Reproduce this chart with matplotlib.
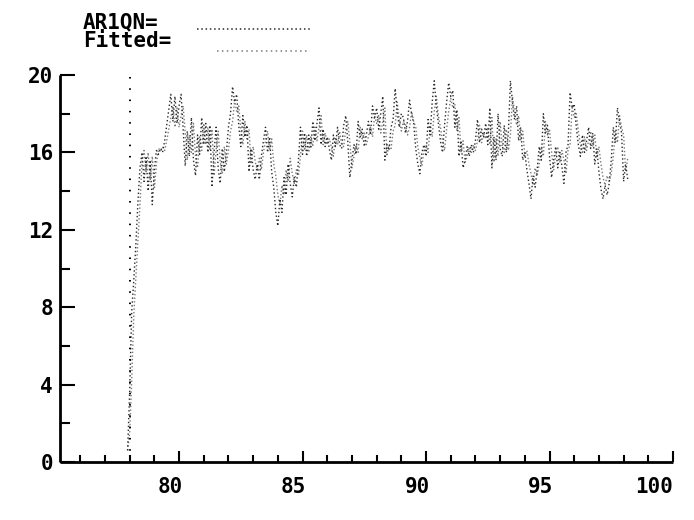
import matplotlib
matplotlib.use("Agg")
import matplotlib.pyplot as plt
import numpy as np
from matplotlib.lines import Line2D
from matplotlib.ticker import MultipleLocator
from matplotlib.transforms import ScaledTranslation

# monthly series, first month is Dec 1977
first_month = 77.917
ar1qn = [
    0.6, 3.6, 7.8, 9.4, 11.2, 13.4, 15.2,
    16.0, 14.5, 15.8, 14.0, 15.6, 13.3,
    15.1, 16.1, 15.9, 16.2, 16.0, 16.6, 17.4, 18.2, 19.0, 17.6, 18.9, 17.5,  # 79
    18.4, 19.0, 17.2, 15.3, 17.1, 15.8, 17.8, 15.6, 14.8, 16.9, 15.9, 17.8,  # 80
    16.4, 17.5, 16.0, 17.4, 14.2, 16.0, 17.3, 15.2, 14.4, 16.2, 15.0, 16.0,  # 81
    17.3, 18.0, 19.4, 18.6, 19.0, 17.4, 16.3, 17.9, 16.8, 17.4, 15.0, 16.2,  # 82
    15.1, 14.6, 15.4, 14.6, 15.8, 16.6, 17.3, 16.0, 16.8, 15.0, 14.2, 12.9,  # 83
    12.2, 13.6, 12.9, 14.7, 13.8, 15.4, 14.4, 13.7, 14.7, 14.2, 15.6, 17.3,  # 84
    15.9, 17.0, 15.8, 16.9, 16.2, 17.6, 16.6, 17.5, 18.3, 16.4, 17.2, 16.3,  # 85
    16.8, 16.2, 15.6, 16.9, 16.3, 17.3, 16.4, 16.2, 17.4, 17.9, 16.5, 14.7,  # 86
    15.6, 16.4, 15.9, 17.6, 16.8, 17.2, 16.3, 16.9, 17.6, 16.9, 18.4, 17.8,  # 87
    18.3, 17.2, 18.0, 18.9, 15.6, 16.4, 16.1, 17.3, 17.7, 19.3, 18.1, 17.3,  # 88
    18.0, 17.8, 17.0, 17.6, 18.7, 18.0, 17.5, 16.2, 15.4, 14.9, 16.0, 16.4,  # 89
    15.8, 17.7, 16.9, 18.6, 19.7, 18.4, 17.5, 16.6, 16.0, 17.4, 18.6, 19.6,  # 90
    18.9, 19.2, 17.3, 18.2, 15.8, 16.6, 15.2, 15.6, 16.3, 15.8, 16.4, 16.0,  # 91
    16.6, 17.7, 16.5, 17.2, 16.8, 17.5, 16.4, 18.3, 15.2, 16.8, 15.6, 18.0,  # 92
    16.2, 15.8, 17.4, 16.0, 17.0, 19.7, 18.6, 17.7, 18.4, 16.6, 17.3, 15.6,  # 93
    16.0, 15.1, 14.4, 13.6, 14.8, 14.2, 15.1, 16.3, 15.6, 18.0, 17.0, 17.4,  # 94
    15.8, 14.7, 15.6, 16.3, 15.2, 16.0, 15.3, 14.4, 16.0, 16.4, 19.1, 18.3,  # 95
    18.5, 17.3, 16.4, 15.8, 16.9, 16.0, 16.6, 17.3, 16.2, 17.0, 15.4, 16.2,  # 96
    15.0, 14.1, 13.6, 14.3, 13.8, 14.4, 15.6, 17.3, 16.5, 18.3, 17.6, 17.0,  # 97
    14.5, 15.4, 14.6,
]
fitted = [
    0.6, 1.5, 4.2, 7.6, 9.5, 11.3, 13.3,
    15.5, 16.1, 15.0, 16.0, 14.6, 15.8,
    14.1, 15.4, 16.2, 16.1, 16.3, 16.1, 16.6, 17.2, 17.8, 18.4, 17.3, 18.3,
    17.3, 17.9, 18.4, 17.0, 15.6, 16.9, 16.0, 17.5, 15.8, 15.2, 16.8, 16.1,
    17.5, 16.4, 17.3, 16.1, 17.2, 14.8, 16.1, 17.1, 15.5, 14.9, 16.3, 15.4,
    16.1, 17.1, 17.6, 18.7, 18.1, 18.4, 17.2, 16.4, 17.6, 16.7, 17.2, 15.4,
    16.3, 15.5, 15.1, 15.7, 15.1, 16.0, 16.6, 17.1, 16.1, 16.7, 15.4, 14.8,
    13.8, 13.3, 14.3, 13.8, 15.1, 14.5, 15.7, 14.9, 14.4, 15.1, 14.8, 15.8,
    17.1, 16.1, 16.9, 16.0, 16.8, 16.3, 17.3, 16.6, 17.3, 17.9, 16.4, 17.0,
    16.4, 16.7, 16.3, 15.8, 16.8, 16.4, 17.1, 16.4, 16.3, 17.2, 17.6, 16.5,
    15.2, 15.8, 16.4, 16.0, 17.3, 16.7, 17.0, 16.4, 16.8, 17.3, 16.8, 17.9,
    17.5, 17.9, 17.0, 17.6, 18.3, 15.8, 16.4, 16.2, 17.1, 17.4, 18.6, 17.7,
    17.1, 17.6, 17.5, 16.9, 17.3, 18.1, 17.6, 17.3, 16.3, 15.7, 15.3, 16.1,
    16.4, 16.0, 17.4, 16.8, 18.1, 18.9, 17.9, 17.3, 16.6, 16.1, 17.2, 18.1,
    18.8, 18.3, 18.5, 17.1, 17.8, 16.0, 16.6, 15.5, 15.8, 16.3, 16.0, 16.4,
    16.1, 16.6, 17.4, 16.5, 17.0, 16.7, 17.3, 16.4, 17.8, 15.5, 16.7, 15.8,
    17.6, 16.3, 16.0, 17.2, 16.1, 16.9, 18.9, 18.1, 17.4, 17.9, 16.6, 17.1,
    15.8, 16.1, 15.4, 14.9, 14.3, 15.2, 14.8, 15.4, 16.3, 15.8, 17.6, 16.9,
    17.2, 16.0, 15.1, 15.8, 16.3, 15.5, 16.1, 15.6, 14.9, 16.1, 16.4, 18.4,
    17.8, 18.0, 17.1, 16.4, 16.0, 16.8, 16.1, 16.6, 17.1, 16.3, 16.9, 15.7,
    16.3, 15.4, 14.7, 14.3, 14.8, 14.5, 14.9, 15.8, 17.1, 16.5, 17.9, 17.3,
    16.9, 15.0, 15.7,
]
years = first_month + np.arange(len(ar1qn)) / 12
sample_start = 78.0
xticks = [80, 85, 90, 95, 100]
yticks = [0, 4, 8, 12, 16, 20]

FONT = dict(family="DejaVu Sans Mono", weight="bold", size=15)
W, H = 694, 520
DARK, LIGHT = "#2a2a2a", "#7a7a7a"

fig = plt.figure(figsize=(W / 100, H / 100), dpi=100)
ax = fig.add_axes([60 / W, 1 - 462 / H, (673 - 60) / W, (462 - 75) / H])

ax.plot(years, fitted, color=LIGHT, lw=1.0, ls=(0, (1, 1.6)))
ax.plot(years, ar1qn, color=DARK, lw=1.0, ls=(0, (1, 1.8)))
ax.plot([sample_start, sample_start], [0, 20], color="black", lw=1.4,
        ls=(0, (0.8, 5)))

ax.set_xlim(75.18, 100)
ax.set_ylim(0, 20)
for side in ("top", "right"):
    ax.spines[side].set_visible(False)
for side in ("left", "bottom"):
    ax.spines[side].set_linewidth(2)
    ax.spines[side].set_capstyle("butt")

ax.set_xticks(xticks)
ax.set_yticks(yticks)
ax.xaxis.set_minor_locator(MultipleLocator(1))
ax.yaxis.set_minor_locator(MultipleLocator(2))
ax.tick_params(axis="x", which="major", direction="in", length=8, width=1.5, pad=11)
ax.tick_params(axis="x", which="minor", direction="in", length=5, width=1.5)
ax.tick_params(axis="y", which="major", direction="in", length=11, width=1.5, pad=5)
ax.tick_params(axis="y", which="minor", direction="in", length=7, width=1.5)
ax.set_xticklabels([str(t) for t in xticks], **FONT)
ax.set_yticklabels([str(t) for t in yticks], **FONT)
# labels sit a little left of their ticks, like the original
for lab in ax.get_xticklabels():
    dx = -19 if len(lab.get_text()) > 2 else -9
    lab.set_transform(lab.get_transform() + ScaledTranslation(dx / 100, 0, fig.dpi_scale_trans))

# legend block at top
fig.text(83 / W, 1 - 28 / H, "AR1QN=", ha="left", va="baseline", **FONT)
fig.text(83 / W, 1 - 47 / H, "Fitted=", ha="left", va="baseline", **FONT)
fig.add_artist(Line2D([197 / W, 310 / W], [1 - 29 / H, 1 - 29 / H],
                      color=DARK, lw=1.1, ls=(0, (1, 1.8))))
fig.add_artist(Line2D([217 / W, 310 / W], [1 - 51 / H, 1 - 51 / H],
                      color=LIGHT, lw=1.1, ls=(0, (1, 2.2))))

fig.savefig("out.png", dpi=100)
